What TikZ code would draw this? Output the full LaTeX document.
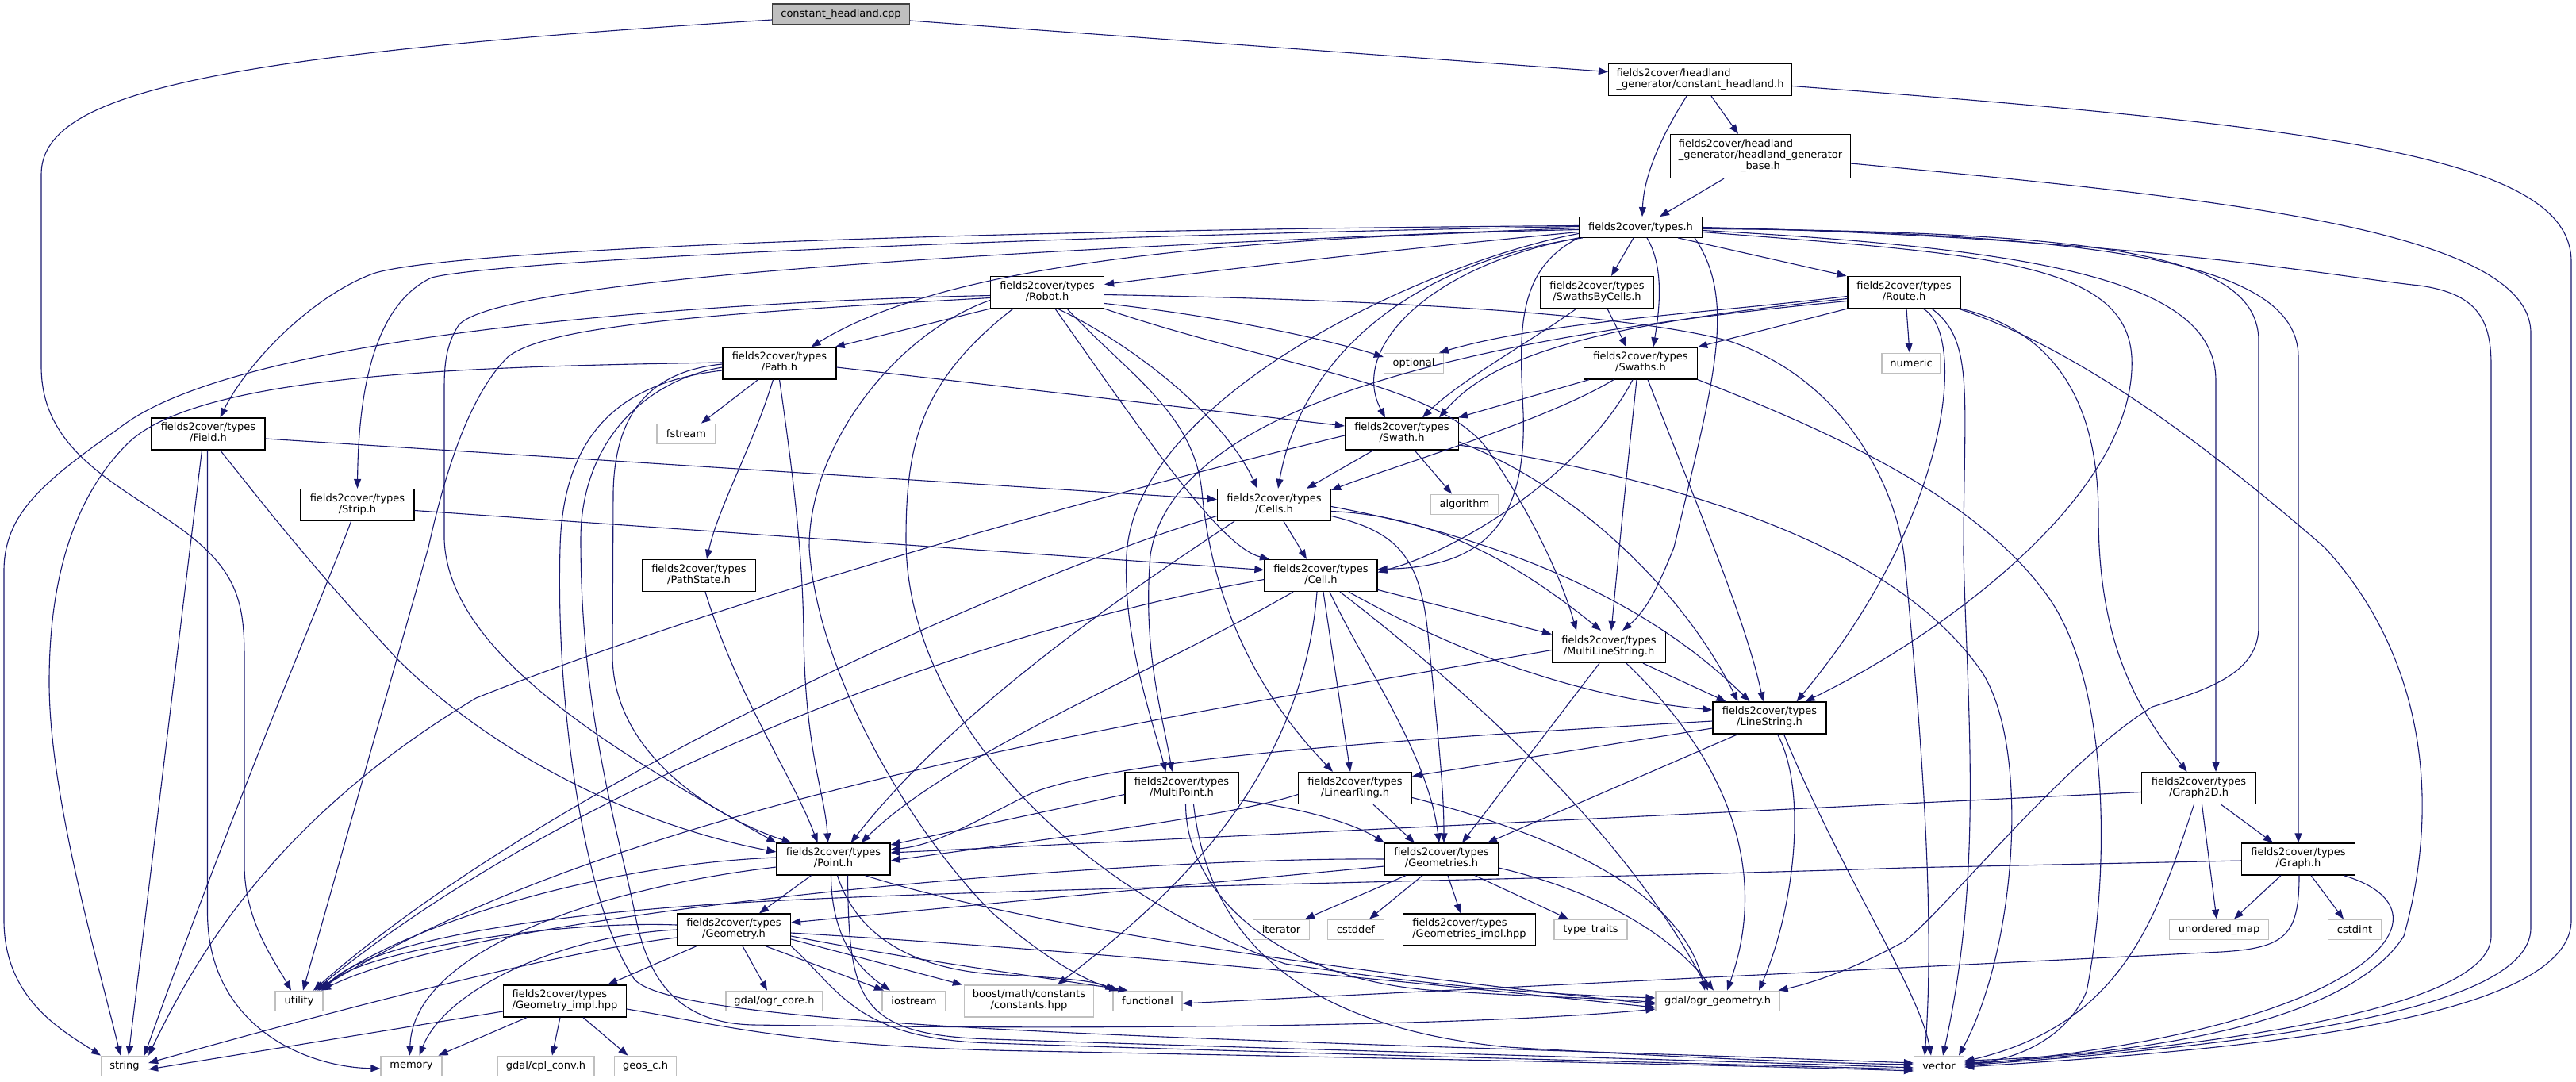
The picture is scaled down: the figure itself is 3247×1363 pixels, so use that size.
\documentclass[tikz,border=0pt]{standalone}
\usepackage{fontspec}
\setmainfont{DejaVu Sans}
\usetikzlibrary{arrows.meta}
\definecolor{edgec}{HTML}{191970}
\definecolor{sysc}{HTML}{BFBFBF}
\definecolor{rootf}{HTML}{BFBFBF}
\definecolor{rootd}{HTML}{404040}
\newcommand\nfont{\fontsize{13}{14}\selectfont}
\newcommand\twol[2]{\begin{tabular}{@{}l@{}}#1\\\multicolumn{1}{@{}c@{}}{#2}\end{tabular}}
\tikzset{
  hdr/.style={draw=black, fill=white, line width=1.3pt, inner sep=0pt, font=\nfont, minimum width=143, minimum height=40},
  sys/.style={draw=sysc, fill=white, line width=1.3pt, inner sep=0pt, font=\nfont, minimum height=25.5},
  root/.style={draw=rootd, fill=rootf, line width=1.3pt, inner sep=0pt, font=\nfont},
  e/.style={draw=edgec, line width=1.1pt, -{Triangle[length=12pt,width=9pt]}}
}
\begin{document}
\begin{tikzpicture}[x=1pt,y=1pt]
\useasboundingbox (0,0) rectangle (3247,-1363);
% ---------------- nodes
\node[root, minimum width=173, minimum height=26] (cpp) at (1060,-18) {constant\_headland.cpp};
\node[hdr, minimum width=231] (chh) at (2143,-100.5) {\begin{tabular}{@{}l@{}}fields2cover/headland\\\_generator/constant\_headland.h\end{tabular}};
\node[hdr, minimum width=227, minimum height=55] (base) at (2219,-197) {\begin{tabular}{@{}l@{}}fields2cover/headland\\\_generator/headland\_generator\\\multicolumn{1}{@{}c@{}}{\_base.h}\end{tabular}};
\node[hdr, minimum width=155, minimum height=25.5] (types) at (2068,-286.5) {fields2cover/types.h};
\node[hdr] (sbc) at (2013,-368.5) {\twol{fields2cover/types}{/SwathsByCells.h}};
\node[hdr] (swaths) at (2068,-458) {\twol{fields2cover/types}{/Swaths.h}};
\node[hdr, minimum width=142] (route) at (2400,-368.5) {\twol{fields2cover/types}{/Route.h}};
\node[sys, minimum width=74] (numeric) at (2409,-458) {numeric};
\node[sys, minimum width=75] (optional) at (1782,-458) {optional};
\node[hdr] (swath) at (1767,-547) {\twol{fields2cover/types}{/Swath.h}};
\node[sys, minimum width=86] (algorithm) at (1846,-636) {algorithm};
\node[hdr] (cells) at (1606,-636.5) {\twol{fields2cover/types}{/Cells.h}};
\node[hdr] (robot) at (1320,-368.5) {\twol{fields2cover/types}{/Robot.h}};
\node[hdr] (path) at (982.5,-458) {\twol{fields2cover/types}{/Path.h}};
\node[sys, minimum width=74] (fstream) at (865,-547) {fstream};
\node[hdr] (field) at (262.5,-547) {\twol{fields2cover/types}{/Field.h}};
\node[hdr] (strip) at (450.5,-636.5) {\twol{fields2cover/types}{/Strip.h}};
\node[hdr] (pathstate) at (881,-725.5) {\twol{fields2cover/types}{/PathState.h}};
\node[hdr, minimum width=142] (cell) at (1665,-725.5) {\twol{fields2cover/types}{/Cell.h}};
\node[hdr] (mls) at (2028,-815.5) {\twol{fields2cover/types}{/MultiLineString.h}};
\node[hdr] (ls) at (2230.5,-905) {\twol{fields2cover/types}{/LineString.h}};
\node[hdr] (lr) at (1708,-993.5) {\twol{fields2cover/types}{/LinearRing.h}};
\node[hdr] (mp) at (1489.5,-993.5) {\twol{fields2cover/types}{/MultiPoint.h}};
\node[hdr] (point) at (1050.5,-1083) {\twol{fields2cover/types}{/Point.h}};
\node[hdr] (geoms) at (1817,-1083) {\twol{fields2cover/types}{/Geometries.h}};
\node[hdr] (geom) at (925,-1172) {\twol{fields2cover/types}{/Geometry.h}};
\node[hdr, minimum width=144] (g2d) at (2771.5,-993.5) {\twol{fields2cover/types}{/Graph2D.h}};
\node[hdr] (graph) at (2897,-1083) {\twol{fields2cover/types}{/Graph.h}};
\node[sys, minimum width=125] (umap) at (2797,-1172) {unordered\_map};
\node[sys, minimum width=67] (cstdint) at (2968,-1172) {cstdint};
\node[sys, minimum width=71] (iterator) at (1615,-1172) {iterator};
\node[sys, minimum width=71] (cstddef) at (1709,-1172) {cstddef};
\node[hdr, minimum width=167] (gimpl) at (1852,-1172) {\twol{fields2cover/types}{/Geometries\_impl.hpp}};
\node[sys, minimum width=92] (typetraits) at (2005,-1172) {type\_traits};
\node[sys, minimum width=156] (ogrgeom) at (2165,-1262) {gdal/ogr\_geometry.h};
\node[sys, minimum width=87] (functional) at (1446.5,-1262) {functional};
\node[sys, minimum width=163, minimum height=40] (boost) at (1297,-1262) {\twol{boost/math/constants}{/constants.hpp}};
\node[sys, minimum width=80] (iostream) at (1152,-1262) {iostream};
\node[sys, minimum width=122] (ogrcore) at (976,-1262) {gdal/ogr\_core.h};
\node[sys, minimum width=60] (utility) at (377,-1262) {utility};
\node[hdr, minimum width=155] (geomimpl) at (712,-1262) {\twol{fields2cover/types}{/Geometry\_impl.hpp}};
\node[sys, minimum width=59] (string) at (157,-1344) {string};
\node[sys, minimum width=77] (memory) at (518.5,-1344) {memory};
\node[sys, minimum width=122] (cplconv) at (688,-1344) {gdal/cpl\_conv.h};
\node[sys, minimum width=78] (geos) at (813.5,-1344) {geos\_c.h};
\node[sys, minimum width=63] (vector) at (2444,-1344) {vector};
% ---------------- edges: top
\draw[e] ([yshift=-8pt]cpp.east) -- ([yshift=10pt]chh.west);
\draw[e] ([yshift=-7pt]cpp.west) .. controls (250,-70) and (52,-120) .. (52,-220) -- (52,-462) .. controls (52,-570) and (150,-610) .. (230,-668) .. controls (300,-720) and (308,-760) .. (308,-830) -- (308,-1090) .. controls (308,-1160) and (345,-1210) .. ([xshift=-10pt]utility.north);
\draw[e] ([xshift=14pt]chh.south) -- ([xshift=-28pt]base.north);
\draw[e] ([xshift=-17pt]chh.south) .. controls (2095,-170) and (2072,-220) .. ([xshift=2pt]types.north);
\draw[e] ([yshift=-8pt]chh.east) .. controls (2950,-160) and (3241,-200) .. (3241,-330) -- (3241,-1160) .. controls (3241,-1290) and (2800,-1325) .. ([yshift=-1pt]vector.east);
\draw[e] ([xshift=-46pt]base.south) -- ([xshift=24pt]types.north);
\draw[e] ([yshift=-9pt]base.east) .. controls (2800,-250) and (3190,-290) .. (3190,-420) -- (3190,-1170) .. controls (3190,-1280) and (2800,-1320) .. ([yshift=1pt]vector.east);
% types
\draw[e] ([xshift=-9pt]types.south) -- ([xshift=18pt]sbc.north);
\draw[e] ([xshift=8pt]types.south) .. controls (2100,-340) and (2090,-400) .. ([xshift=16pt]swaths.north);
\draw[e] ([xshift=47pt]types.south) -- ([xshift=-1pt]route.north west);
\draw[e] ([yshift=-6pt]types.west) .. controls (1750,-315) and (1500,-345) .. ([yshift=10pt]robot.east);
\draw[e] ([yshift=-3pt]types.west) .. controls (1500,-300) and (1180,-340) .. ([xshift=40pt]path.north);
\draw[e] ([yshift=2pt]types.west) .. controls (1200,-290) and (560,-315) .. (470,-345) .. controls (390,-375) and (310,-460) .. ([xshift=15pt]field.north);
\draw[e] ([yshift=1pt]types.west) .. controls (1200,-300) and (620,-330) .. (544,-350) .. controls (480,-380) and (452,-470) .. (strip.north);
\draw[e] ([yshift=-1pt]types.west) .. controls (1100,-320) and (620,-360) .. (578,-410) .. controls (562,-435) and (560,-460) .. (560,-490) -- (560,-680) .. controls (565,-820) and (760,-940) .. (point.north west);
\draw[e] (types.south west) .. controls (1800,-335) and (1700,-440) .. ([xshift=-21pt]swath.north);
\draw[e] ([xshift=5pt]types.south west) .. controls (1780,-330) and (1640,-450) .. ([xshift=5pt]cells.north);
\draw[e] (types.south west) .. controls (1910,-340) and (1915,-420) .. (1920,-520) .. controls (1925,-670) and (1860,-715) .. ([yshift=8pt]cell.east);
\draw[e] ([yshift=-8pt]types.west) .. controls (1800,-330) and (1430,-500) .. (1420,-700) .. controls (1415,-800) and (1450,-900) .. ([xshift=-20pt]mp.north);
\draw[e] ([yshift=-6pt]types.east) .. controls (2500,-320) and (2680,-330) .. (2687,-450) .. controls (2695,-620) and (2450,-800) .. ([xshift=45pt]ls.north);
\draw[e] ([yshift=-4pt]types.east) .. controls (2600,-315) and (2793,-360) .. (2793,-480) -- ([xshift=21.5pt]g2d.north);
\draw[e] ([yshift=-1pt]types.east) .. controls (2650,-295) and (2897,-330) .. (2897,-450) -- (graph.north);
\draw[e] (types.east) .. controls (2700,-300) and (2950,-350) .. (3050,-360) .. controls (3120,-370) and (3140,-400) .. (3140,-460) -- (3140,-1180) .. controls (3140,-1270) and (2800,-1320) .. ([yshift=3pt]vector.east);
\draw[e] ([yshift=-2pt]types.east) .. controls (2650,-292) and (2847,-320) .. (2847,-430) -- (2847,-790) .. controls (2847,-850) and (2780,-870) .. (2713,-891) .. controls (2600,-960) and (2450,-1150) .. (2400,-1187) .. controls (2330,-1225) and (2280,-1240) .. ([xshift=-2pt]ogrgeom.north east);
\draw[e] ([xshift=-10pt]types.south east) .. controls (2190,-380) and (2160,-480) .. (2110,-690) .. controls (2090,-740) and (2075,-770) .. ([xshift=17pt]mls.north);
% sbc
\draw[e] ([xshift=13pt]sbc.south) -- ([xshift=-18pt]swaths.north);
\draw[e] ([xshift=-26pt]sbc.south) .. controls (1930,-430) and (1840,-480) .. ([xshift=26pt]swath.north);
% swaths
\draw[e] ([xshift=-65pt]swaths.south) -- ([xshift=-1pt]swath.north east);
\draw[e] ([xshift=-34pt]swaths.south) .. controls (1950,-530) and (1750,-590) .. ([yshift=-2pt]cells.north east);
\draw[e] ([xshift=-10pt]swaths.south) .. controls (2000,-590) and (1850,-690) .. ([yshift=4pt]cell.east);
\draw[e] ([xshift=-5pt]swaths.south) .. controls (2050,-600) and (2040,-700) .. ([xshift=3pt]mls.north);
\draw[e] ([xshift=9pt]swaths.south) .. controls (2140,-640) and (2200,-780) .. ([xshift=-8pt]ls.north);
\draw[e] (swaths.south east) .. controls (2350,-560) and (2500,-640) .. (2580,-750) .. controls (2660,-860) and (2660,-1100) .. (2630,-1250) .. controls (2600,-1320) and (2520,-1340) .. ([yshift=5pt]vector.east);
% route
\draw[e] (route.south west) -- (swaths.north east);
\draw[e] ([yshift=-5pt]route.west) .. controls (2150,-395) and (1950,-405) .. ([xshift=32pt]optional.north);
\draw[e] ([yshift=-8pt]route.west) .. controls (2000,-410) and (1880,-450) .. ([xshift=47pt]swath.north);
\draw[e] ([xshift=3pt]route.south) -- ([xshift=-2pt]numeric.north);
\draw[e] ([yshift=-11pt]route.west) .. controls (1900,-420) and (1480,-500) .. (1450,-700) .. controls (1440,-820) and (1465,-900) .. ([xshift=-12pt]mp.north);
\draw[e] ([xshift=24pt]route.south) .. controls (2480,-420) and (2460,-650) .. ([xshift=34pt]ls.north);
\draw[e] (route.south east) .. controls (2600,-420) and (2645,-520) .. (2645,-650) .. controls (2645,-820) and (2700,-900) .. ([xshift=-15pt]g2d.north);
\draw[e] ([xshift=35pt]route.south) .. controls (2490,-430) and (2475,-500) .. (2475,-700) .. controls (2480,-900) and (2500,-1100) .. ([xshift=5pt]vector.north);
\draw[e] ([xshift=-3pt]route.south east) .. controls (2620,-440) and (2780,-560) .. (2930,-690) .. controls (3050,-820) and (3080,-1000) .. (3030,-1180) .. controls (2960,-1290) and (2700,-1330) .. ([yshift=7pt]vector.east);
% robot
\draw[e] (robot.south west) -- ([xshift=-2pt]path.north east);
\draw[e] ([xshift=13pt]robot.south) .. controls (1420,-430) and (1540,-520) .. ([xshift=-21pt]cells.north);
\draw[e] ([xshift=10pt]robot.south) .. controls (1450,-560) and (1540,-690) .. ([xshift=-65pt]cell.north);
\draw[e] ([xshift=25pt]robot.south) .. controls (1420,-470) and (1505,-520) .. (1515,-620) .. controls (1530,-780) and (1600,-890) .. ([xshift=-28pt]lr.north);
\draw[e] ([yshift=-10pt]robot.west) .. controls (1130,-420) and (1020,-560) .. (1020,-690) .. controls (1030,-850) and (1150,-1050) .. (1250,-1150) .. controls (1330,-1220) and (1380,-1240) .. ([xshift=-36pt]functional.north);
\draw[e] ([yshift=-14pt]robot.east) .. controls (1550,-400) and (1680,-430) .. ([yshift=8pt]optional.west);
\draw[e] ([yshift=-4pt]robot.west) .. controls (900,-380) and (300,-420) .. (150,-540) .. controls (50,-610) and (5,-650) .. (5,-720) -- (5,-1160) .. controls (5,-1260) and (80,-1300) .. ([xshift=-30pt]string.north);
\draw[e] ([yshift=-7pt]robot.west) .. controls (900,-395) and (690,-410) .. (640,-450) .. controls (590,-500) and (560,-600) .. (540,-690) -- ([xshift=5pt]utility.north);
\draw[e] ([xshift=-43pt]robot.south) .. controls (1160,-480) and (1142,-560) .. (1142,-680) .. controls (1142,-900) and (1350,-1120) .. (1620,-1215) .. controls (1850,-1250) and (2000,-1255) .. ([yshift=4pt]ogrgeom.west);
\draw[e] ([yshift=-3pt]robot.east) .. controls (1750,-378) and (2050,-395) .. (2180,-430) .. controls (2330,-480) and (2390,-620) .. (2400,-700) .. controls (2420,-900) and (2440,-1150) .. ([xshift=-18pt]vector.north);
\draw[e] (robot.south east) .. controls (1600,-460) and (1800,-480) .. (1870,-560) .. controls (1900,-600) and (1960,-700) .. ([xshift=-41pt]mls.north);
% path
\draw[e] ([xshift=-27pt]path.south) -- ([xshift=19pt]fstream.north);
\draw[e] ([xshift=-8pt]path.south) .. controls (950,-560) and (905,-640) .. ([xshift=10pt]pathstate.north);
\draw[e] (path.south) .. controls (1000,-600) and (1012,-700) .. (1013,-800) .. controls (1015,-950) and (1040,-1000) .. ([xshift=-7pt]point.north);
\draw[e] ([yshift=-5pt]path.east) -- ([yshift=10pt]swath.west);
\draw[e] ([yshift=1pt]path.west) .. controls (600,-462) and (250,-470) .. (160,-560) .. controls (80,-640) and (62,-760) .. (62,-860) .. controls (62,-1000) and (120,-1200) .. ([xshift=-5pt]string.north);
\draw[e] ([yshift=-9pt]path.west) .. controls (800,-480) and (710,-530) .. (706,-690) .. controls (700,-900) and (740,-1150) .. (800,-1235) .. controls (860,-1300) and (1600,-1310) .. ([yshift=4pt]vector.west);
\draw[e] ([yshift=-5pt]path.west) .. controls (810,-480) and (732,-560) .. (732,-680) .. controls (732,-900) and (780,-1050) .. (800,-1150) .. controls (815,-1230) and (850,-1290) .. (950,-1292) .. controls (1500,-1300) and (1900,-1290) .. ([yshift=-10pt]ogrgeom.west);
\draw[e] ([yshift=-1pt]path.west) .. controls (820,-468) and (775,-520) .. (773,-620) -- (772,-826) .. controls (772,-950) and (900,-1030) .. ([xshift=-53pt]point.north);
% field
\draw[e] ([yshift=-6pt]field.east) -- ([yshift=7pt]cells.west);
\draw[e] ([xshift=15pt]field.south) .. controls (320,-620) and (380,-700) .. (500,-830) .. controls (620,-950) and (800,-1040) .. ([yshift=9pt]point.west);
\draw[e] ([xshift=-8pt]field.south) -- ([xshift=5pt]string.north);
\draw[e] ([xshift=-1pt]field.south) -- (261.5,-1150) .. controls (261.5,-1290) and (380,-1345) .. ([yshift=-3pt]memory.west);
% strip
\draw[e] ([yshift=-7pt]strip.east) -- ([yshift=7pt]cell.west);
\draw[e] ([xshift=-8pt]strip.south) .. controls (420,-720) and (300,-1000) .. ([xshift=25pt]string.north);
% pathstate
\draw[e] ([xshift=8pt]pathstate.south) .. controls (930,-880) and (1000,-980) .. ([xshift=-20pt]point.north);
% swath
\draw[e] ([xshift=-36pt]swath.south) -- ([xshift=41pt]cells.north);
\draw[e] ([xshift=16pt]swath.south) -- ([xshift=-16pt]algorithm.north);
\draw[e] ([yshift=-2pt]swath.west) .. controls (1400,-620) and (900,-760) .. (600,-880) .. controls (350,-1030) and (250,-1200) .. (string.north east);
\draw[e] ([yshift=-10pt]swath.east) .. controls (2000,-620) and (2130,-760) .. ([xshift=-40pt]ls.north);
\draw[e] ([yshift=-14pt]swath.east) .. controls (2150,-610) and (2400,-700) .. (2500,-850) .. controls (2560,-950) and (2540,-1200) .. ([xshift=25pt]vector.north);
% cells
\draw[e] ([xshift=12pt]cells.south) -- ([xshift=-18pt]cell.north);
\draw[e] ([yshift=-14pt]cells.east) .. controls (1760,-670) and (1790,-700) .. (1800,-800) .. controls (1815,-950) and (1820,-1000) .. ([xshift=3pt]geoms.north);
\draw[e] ([yshift=-8pt]cells.east) .. controls (1800,-650) and (1900,-700) .. ([xshift=-10pt]mls.north);
\draw[e] ([xshift=-50pt]cells.south) .. controls (1400,-760) and (1200,-900) .. ([xshift=22pt]point.north);
\draw[e] ([yshift=-2pt]cells.east) .. controls (1900,-680) and (2080,-760) .. ([xshift=-25pt]ls.north);
\draw[e] ([yshift=-14pt]cells.west) .. controls (1300,-720) and (700,-980) .. ([xshift=18pt]utility.north);
% cell
\draw[e] ([yshift=-18pt]cell.east) -- ([yshift=16pt]mls.west);
\draw[e] ([xshift=35pt]cell.south) .. controls (1850,-830) and (2000,-880) .. ([yshift=10pt]ls.west);
\draw[e] ([xshift=3pt]cell.south) -- ([xshift=-6pt]lr.north);
\draw[e] ([xshift=11pt]cell.south) .. controls (1720,-840) and (1800,-950) .. ([xshift=-3pt]geoms.north);
\draw[e] ([xshift=-35pt]cell.south) .. controls (1450,-850) and (1200,-950) .. ([xshift=35pt]point.north);
\draw[e] ([xshift=-5pt]cell.south) .. controls (1640,-1000) and (1450,-1150) .. ([xshift=36pt]boost.north);
\draw[e] ([xshift=24pt]cell.south) .. controls (1850,-870) and (2050,-1050) .. ([xshift=-12pt]ogrgeom.north);
\draw[e] ([yshift=-5pt]cell.west) .. controls (1200,-800) and (700,-1000) .. ([xshift=20pt]utility.north);
% mls
\draw[e] ([xshift=43pt]mls.south) -- ([xshift=-55pt]ls.north);
\draw[e] ([xshift=-12pt]mls.south) -- ([xshift=26pt]geoms.north);
\draw[e] ([xshift=22pt]mls.south) .. controls (2180,-960) and (2230,-1100) .. ([xshift=12pt]ogrgeom.north);
\draw[e] ([yshift=-4pt]mls.west) .. controls (1500,-900) and (800,-1000) .. ([xshift=23pt]utility.north);
% ls
\draw[e] ([yshift=-13pt]ls.west) -- ([yshift=15pt]lr.east);
\draw[e] ([xshift=-40pt]ls.south) -- ([xshift=58pt]geoms.north);
\draw[e] ([yshift=-4pt]ls.west) .. controls (1700,-935) and (1400,-960) .. (1300,-1000) .. controls (1220,-1040) and (1180,-1065) .. ([yshift=12pt]point.east);
\draw[e] ([xshift=10pt]ls.south) .. controls (2280,-1000) and (2260,-1150) .. ([xshift=52pt]ogrgeom.north);
\draw[e] ([xshift=18pt]ls.south) .. controls (2320,-1100) and (2420,-1250) .. ([xshift=-10pt]vector.north);
% lr
\draw[e] ([yshift=-8pt]lr.west) .. controls (1550,-1030) and (1300,-1060) .. ([yshift=-2pt]point.east);
\draw[e] ([xshift=23pt]lr.south) -- ([xshift=-34pt]geoms.north);
\draw[e] ([yshift=-12pt]lr.east) .. controls (1950,-1050) and (2120,-1120) .. ([xshift=-16pt]ogrgeom.north);
% mp
\draw[e] ([yshift=-8pt]mp.west) -- ([yshift=18pt]point.east);
\draw[e] ([yshift=-15pt]mp.east) .. controls (1650,-1020) and (1710,-1040) .. (geoms.north west);
\draw[e] ([xshift=5pt]mp.south) .. controls (1495,-1120) and (1600,-1230) .. (1800,-1248) .. controls (1950,-1258) and (2030,-1258) .. ([yshift=-2pt]ogrgeom.west);
\draw[e] ([xshift=15pt]mp.south) .. controls (1520,-1150) and (1600,-1290) .. (1900,-1320) .. controls (2150,-1335) and (2300,-1340) .. ([yshift=2pt]vector.west);
% point
\draw[e] ([xshift=-28pt]point.south) -- ([xshift=32pt]geom.north);
\draw[e] ([xshift=-3pt]point.south) .. controls (1048,-1180) and (1080,-1220) .. ([xshift=-30pt]iostream.north);
\draw[e] ([xshift=5pt]point.south) .. controls (1080,-1180) and (1150,-1220) .. (1250,-1228) .. controls (1330,-1232) and (1380,-1236) .. ([xshift=3pt]functional.north west);
\draw[e] ([xshift=40pt]point.south) .. controls (1300,-1170) and (1700,-1225) .. ([yshift=-4pt]ogrgeom.west);
\draw[e] ([xshift=18pt]point.south) .. controls (1070,-1260) and (1080,-1305) .. (1250,-1310) .. controls (1700,-1325) and (2200,-1338) .. ([yshift=-2pt]vector.west);
\draw[e] ([yshift=-10pt]point.west) .. controls (750,-1120) and (520,-1200) .. ([xshift=-2pt]memory.north);
\draw[e] ([yshift=2pt]point.west) .. controls (750,-1090) and (500,-1170) .. ([xshift=25pt]utility.north);
% geoms
\draw[e] ([xshift=-45pt]geoms.south) -- ([xshift=30pt]iterator.north);
\draw[e] ([xshift=-24pt]geoms.south) -- ([xshift=17pt]cstddef.north);
\draw[e] ([xshift=8pt]geoms.south) -- ([xshift=-11pt]gimpl.north);
\draw[e] ([xshift=42pt]geoms.south) -- ([xshift=-28pt]typetraits.north);
\draw[e] ([yshift=-11pt]geoms.east) .. controls (2000,-1120) and (2100,-1170) .. ([xshift=-5pt]ogrgeom.north);
\draw[e] ([yshift=-9pt]geoms.west) -- ([yshift=9pt]geom.east);
\draw[e] (geoms.west) .. controls (1400,-1080) and (600,-1150) .. ([xshift=28pt]utility.north);
% geom
\draw[e] ([xshift=11pt]geom.south) -- ([xshift=-9pt]ogrcore.north);
\draw[e] ([xshift=40pt]geom.south) -- ([xshift=-38pt]iostream.north);
\draw[e] ([yshift=-12pt]geom.east) -- ([xshift=-2pt]boost.north west);
\draw[e] ([yshift=-4pt]geom.east) .. controls (1400,-1200) and (1800,-1240) .. ([yshift=-8pt]ogrgeom.west);
\draw[e] ([yshift=-8pt]geom.east) .. controls (1150,-1210) and (1300,-1230) .. ([xshift=-25pt]functional.north);
\draw[e] ([xshift=-47pt]geom.south) -- ([xshift=54pt]geomimpl.north);
\draw[e] (geom.west) .. controls (700,-1180) and (560,-1250) .. ([xshift=10pt]memory.north);
\draw[e] ([yshift=6pt]geom.west) .. controls (700,-1160) and (450,-1200) .. (utility.north east);
\draw[e] ([yshift=-10pt]geom.west) .. controls (700,-1200) and (400,-1280) .. ([yshift=4pt]string.east);
\draw[e] (geom.south east) .. controls (1060,-1250) and (1080,-1310) .. (1250,-1315) .. controls (1700,-1330) and (2200,-1342) .. ([yshift=-4pt]vector.west);
% geomimpl
\draw[e] ([yshift=-13pt]geomimpl.west) -- ([yshift=-4pt]string.east);
\draw[e] ([xshift=-48pt]geomimpl.south) -- ([xshift=34pt]memory.north);
\draw[e] ([xshift=-6pt]geomimpl.south) -- ([xshift=8pt]cplconv.north);
\draw[e] ([xshift=23pt]geomimpl.south) -- ([xshift=-22pt]geos.north);
\draw[e] ([yshift=-10pt]geomimpl.east) .. controls (900,-1290) and (1000,-1320) .. (1300,-1325) .. controls (1800,-1335) and (2200,-1343) .. ([yshift=-6pt]vector.west);
% g2d
\draw[e] ([xshift=28pt]g2d.south) -- ([xshift=-32pt]graph.north);
\draw[e] ([xshift=4pt]g2d.south) -- ([xshift=-3pt]umap.north);
\draw[e] ([xshift=-6pt]g2d.south) .. controls (2720,-1150) and (2680,-1290) .. ([yshift=6pt]vector.east);
\draw[e] ([yshift=-5pt]g2d.west) -- ([yshift=8pt]point.east);
% graph
\draw[e] ([xshift=-22pt]graph.south) -- ([xshift=19pt]umap.north);
\draw[e] ([xshift=16pt]graph.south) -- ([xshift=-14pt]cstdint.north);
\draw[e] ([xshift=-15pt]graph.south east) .. controls (3110,-1150) and (2980,-1300) .. ([yshift=2pt]vector.east);
\draw[e] ([xshift=1pt]graph.south) .. controls (2898,-1180) and (2880,-1195) .. (2800,-1200) -- ([yshift=-3pt]functional.east);
\draw[e] ([yshift=-2pt]graph.west) -- (2400,-1094) .. controls (2000,-1108) and (1200,-1120) .. (900,-1140) .. controls (600,-1160) and (450,-1200) .. ([xshift=29pt]utility.north);
\end{tikzpicture}
\end{document}
